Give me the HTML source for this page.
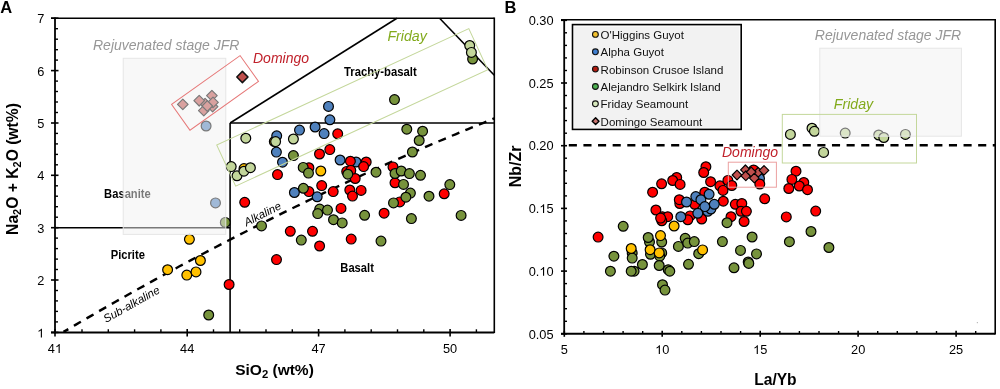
<!DOCTYPE html>
<html><head><meta charset="utf-8"><style>
html,body{margin:0;padding:0;background:#fff;width:1000px;height:389px;overflow:hidden}
svg{display:block;font-family:"Liberation Sans",sans-serif;will-change:transform}
</style></head><body>
<svg width="1000" height="389" viewBox="0 0 1000 389">
<rect width="1000" height="389" fill="#fff"/>
<line x1="55.0" y1="227.7" x2="230.1" y2="227.7" stroke="#000" stroke-width="1.6" />
<line x1="230.1" y1="332.4" x2="230.1" y2="123.0" stroke="#000" stroke-width="1.6" />
<line x1="230.1" y1="123.0" x2="494.3" y2="123.0" stroke="#000" stroke-width="1.6" />
<line x1="230.1" y1="123.0" x2="396.9" y2="18.3" stroke="#000" stroke-width="1.6" />
<line x1="439.6" y1="18.3" x2="494.3" y2="75.2" stroke="#000" stroke-width="1.6" />
<path d="M63.5 331.9 L67.5 329.6 L71.5 327.2 L75.5 324.9 L79.5 322.5 L83.5 320.2 L87.5 317.9 L91.5 315.6 L95.5 313.3 L99.5 310.9 L103.5 308.6 L107.5 306.4 L111.5 304.1 L115.5 301.8 L119.5 299.5 L123.5 297.3 L127.5 295.0 L131.5 292.8 L135.5 290.5 L139.5 288.3 L143.5 286.1 L147.5 283.8 L151.5 281.6 L155.5 279.4 L159.5 277.2 L163.5 275.0 L167.5 272.9 L171.5 270.7 L175.5 268.5 L179.5 266.3 L183.5 264.2 L187.5 262.0 L191.5 259.9 L195.5 257.8 L199.5 255.6 L203.5 253.5 L207.5 251.4 L211.5 249.3 L215.5 247.2 L219.5 245.1 L223.5 243.0 L227.5 241.0 L231.5 238.9 L235.5 236.8 L239.5 234.8 L243.5 232.7 L247.5 230.7 L251.5 228.6 L255.5 226.6 L259.5 224.6 L263.5 222.6 L267.5 220.6 L271.5 218.6 L275.5 216.6 L279.5 214.6 L283.5 212.6 L287.5 210.6 L291.5 208.7 L295.5 206.7 L299.5 204.8 L303.5 202.8 L307.5 200.9 L311.5 199.0 L315.5 197.0 L319.5 195.1 L323.5 193.2 L327.5 191.3 L331.5 189.4 L335.5 187.5 L339.5 185.7 L343.5 183.8 L347.5 181.9 L351.5 180.1 L355.5 178.2 L359.5 176.4 L363.5 174.5 L367.5 172.7 L371.5 170.9 L375.5 169.1 L379.5 167.3 L383.5 165.5 L387.5 163.7 L391.5 161.9 L395.5 160.1 L399.5 158.3 L403.5 156.6 L407.5 154.8 L411.5 153.1 L415.5 151.3 L419.5 149.6 L423.5 147.9 L427.5 146.1 L431.5 144.4 L435.5 142.7 L439.5 141.0 L443.5 139.3 L447.5 137.6 L451.5 135.9 L455.5 134.3 L459.5 132.6 L463.5 130.9 L467.5 129.3 L471.5 127.6 L475.5 126.0 L479.5 124.4 L483.5 122.8 L487.5 121.1 L491.5 119.5 L494.3 118.4" fill="none" stroke="#000" stroke-width="2.4" stroke-dasharray="8.1 6.5" stroke-dashoffset="2.55"/>
<text x="0.0" y="0.0" font-size="11.2" font-weight="bold" font-style="normal" fill="#000" text-anchor="start" transform="translate(104.1 197.6) scale(1 1.09)">Basanite</text>
<text x="0.0" y="0.0" font-size="11.2" font-weight="bold" font-style="normal" fill="#000" text-anchor="start" transform="translate(110.7 258.8) scale(1 1.09)">Picrite</text>
<text x="0.0" y="0.0" font-size="11.2" font-weight="bold" font-style="normal" fill="#000" text-anchor="start" transform="translate(340.3 271.8) scale(1 1.09)">Basalt</text>
<text x="0.0" y="0.0" font-size="11.3" font-weight="bold" font-style="normal" fill="#000" text-anchor="start" transform="translate(344 75.8) scale(1 1.09)">Trachy-basalt</text>
<text x="0.0" y="0.0" font-size="11.4" font-weight="normal" font-style="italic" fill="#000" text-anchor="start" transform="translate(246.5 226.5) rotate(-27)">Alkaline</text>
<text x="0.0" y="0.0" font-size="11.4" font-weight="normal" font-style="italic" fill="#000" text-anchor="start" transform="translate(106.0 323.0) rotate(-29.3)">Sub-alkaline</text>
<circle cx="167.6" cy="269.7" r="4.9" fill="#ffc000" stroke="#000" stroke-width="1.2"/>
<circle cx="186.8" cy="275.1" r="4.9" fill="#ffc000" stroke="#000" stroke-width="1.2"/>
<circle cx="196.0" cy="271.9" r="4.9" fill="#ffc000" stroke="#000" stroke-width="1.2"/>
<circle cx="200.4" cy="260.5" r="4.9" fill="#ffc000" stroke="#000" stroke-width="1.2"/>
<circle cx="189.4" cy="239.3" r="4.9" fill="#ffc000" stroke="#000" stroke-width="1.2"/>
<circle cx="244.0" cy="168.6" r="4.9" fill="#ffc000" stroke="#000" stroke-width="1.2"/>
<circle cx="320.8" cy="171.0" r="4.9" fill="#ffc000" stroke="#000" stroke-width="1.2"/>
<circle cx="274.3" cy="141.6" r="4.9" fill="#ffc000" stroke="#000" stroke-width="1.2"/>
<circle cx="328.5" cy="106.4" r="4.9" fill="#4f81bd" stroke="#000" stroke-width="1.2"/>
<circle cx="329.9" cy="119.8" r="4.9" fill="#4f81bd" stroke="#000" stroke-width="1.2"/>
<circle cx="315.1" cy="127.0" r="4.9" fill="#4f81bd" stroke="#000" stroke-width="1.2"/>
<circle cx="299.5" cy="130.1" r="4.9" fill="#4f81bd" stroke="#000" stroke-width="1.2"/>
<circle cx="324.1" cy="133.6" r="4.9" fill="#4f81bd" stroke="#000" stroke-width="1.2"/>
<circle cx="276.7" cy="135.8" r="4.9" fill="#4f81bd" stroke="#000" stroke-width="1.2"/>
<circle cx="276.4" cy="152.1" r="4.9" fill="#4f81bd" stroke="#000" stroke-width="1.2"/>
<circle cx="282.5" cy="162.2" r="4.9" fill="#4f81bd" stroke="#000" stroke-width="1.2"/>
<circle cx="340.1" cy="160.0" r="4.9" fill="#4f81bd" stroke="#000" stroke-width="1.2"/>
<circle cx="356.1" cy="162.0" r="4.9" fill="#4f81bd" stroke="#000" stroke-width="1.2"/>
<circle cx="294.4" cy="192.5" r="4.9" fill="#4f81bd" stroke="#000" stroke-width="1.2"/>
<circle cx="317.2" cy="196.8" r="4.9" fill="#4f81bd" stroke="#000" stroke-width="1.2"/>
<circle cx="206.1" cy="126.0" r="4.9" fill="#4f81bd" stroke="#000" stroke-width="1.2"/>
<circle cx="215.5" cy="202.9" r="4.9" fill="#4f81bd" stroke="#000" stroke-width="1.2"/>
<circle cx="337.7" cy="133.8" r="4.9" fill="#ff0000" stroke="#000" stroke-width="1.2"/>
<circle cx="319.5" cy="154.0" r="4.9" fill="#ff0000" stroke="#000" stroke-width="1.2"/>
<circle cx="329.8" cy="149.6" r="4.9" fill="#ff0000" stroke="#000" stroke-width="1.2"/>
<circle cx="350.4" cy="161.2" r="4.9" fill="#ff0000" stroke="#000" stroke-width="1.2"/>
<circle cx="366.2" cy="162.0" r="4.9" fill="#ff0000" stroke="#000" stroke-width="1.2"/>
<circle cx="363.6" cy="166.6" r="4.9" fill="#ff0000" stroke="#000" stroke-width="1.2"/>
<circle cx="346.7" cy="171.4" r="4.9" fill="#ff0000" stroke="#000" stroke-width="1.2"/>
<circle cx="350.8" cy="170.4" r="4.9" fill="#ff0000" stroke="#000" stroke-width="1.2"/>
<circle cx="355.2" cy="178.5" r="4.9" fill="#ff0000" stroke="#000" stroke-width="1.2"/>
<circle cx="393.0" cy="166.9" r="4.9" fill="#ff0000" stroke="#000" stroke-width="1.2"/>
<circle cx="395.0" cy="182.8" r="4.9" fill="#ff0000" stroke="#000" stroke-width="1.2"/>
<circle cx="399.8" cy="201.9" r="4.9" fill="#ff0000" stroke="#000" stroke-width="1.2"/>
<circle cx="384.1" cy="213.2" r="4.9" fill="#ff0000" stroke="#000" stroke-width="1.2"/>
<circle cx="341.0" cy="208.4" r="4.9" fill="#ff0000" stroke="#000" stroke-width="1.2"/>
<circle cx="321.7" cy="185.6" r="4.9" fill="#ff0000" stroke="#000" stroke-width="1.2"/>
<circle cx="333.2" cy="191.6" r="4.9" fill="#ff0000" stroke="#000" stroke-width="1.2"/>
<circle cx="349.8" cy="190.0" r="4.9" fill="#ff0000" stroke="#000" stroke-width="1.2"/>
<circle cx="361.1" cy="190.4" r="4.9" fill="#ff0000" stroke="#000" stroke-width="1.2"/>
<circle cx="352.5" cy="196.1" r="4.9" fill="#ff0000" stroke="#000" stroke-width="1.2"/>
<circle cx="277.5" cy="174.6" r="4.9" fill="#ff0000" stroke="#000" stroke-width="1.2"/>
<circle cx="308.9" cy="167.7" r="4.9" fill="#ff0000" stroke="#000" stroke-width="1.2"/>
<circle cx="308.9" cy="191.6" r="4.9" fill="#ff0000" stroke="#000" stroke-width="1.2"/>
<circle cx="244.7" cy="202.3" r="4.9" fill="#ff0000" stroke="#000" stroke-width="1.2"/>
<circle cx="290.3" cy="231.3" r="4.9" fill="#ff0000" stroke="#000" stroke-width="1.2"/>
<circle cx="312.5" cy="231.3" r="4.9" fill="#ff0000" stroke="#000" stroke-width="1.2"/>
<circle cx="319.6" cy="246.0" r="4.9" fill="#ff0000" stroke="#000" stroke-width="1.2"/>
<circle cx="276.5" cy="259.6" r="4.9" fill="#ff0000" stroke="#000" stroke-width="1.2"/>
<circle cx="229.1" cy="284.5" r="4.9" fill="#ff0000" stroke="#000" stroke-width="1.2"/>
<circle cx="351.2" cy="239.1" r="4.9" fill="#ff0000" stroke="#000" stroke-width="1.2"/>
<circle cx="444.2" cy="193.8" r="4.9" fill="#ff0000" stroke="#000" stroke-width="1.2"/>
<circle cx="208.7" cy="315.0" r="4.9" fill="#77933c" stroke="#000" stroke-width="1.2"/>
<circle cx="261.5" cy="225.9" r="4.9" fill="#77933c" stroke="#000" stroke-width="1.2"/>
<circle cx="301.3" cy="240.1" r="4.9" fill="#77933c" stroke="#000" stroke-width="1.2"/>
<circle cx="293.4" cy="155.6" r="4.9" fill="#77933c" stroke="#000" stroke-width="1.2"/>
<circle cx="303.2" cy="167.4" r="4.9" fill="#77933c" stroke="#000" stroke-width="1.2"/>
<circle cx="308.5" cy="173.1" r="4.9" fill="#77933c" stroke="#000" stroke-width="1.2"/>
<circle cx="303.4" cy="188.3" r="4.9" fill="#77933c" stroke="#000" stroke-width="1.2"/>
<circle cx="319.7" cy="209.1" r="4.9" fill="#77933c" stroke="#000" stroke-width="1.2"/>
<circle cx="317.7" cy="213.6" r="4.9" fill="#77933c" stroke="#000" stroke-width="1.2"/>
<circle cx="327.5" cy="210.1" r="4.9" fill="#77933c" stroke="#000" stroke-width="1.2"/>
<circle cx="333.5" cy="219.7" r="4.9" fill="#77933c" stroke="#000" stroke-width="1.2"/>
<circle cx="342.2" cy="222.9" r="4.9" fill="#77933c" stroke="#000" stroke-width="1.2"/>
<circle cx="347.8" cy="174.2" r="4.9" fill="#77933c" stroke="#000" stroke-width="1.2"/>
<circle cx="376.0" cy="172.2" r="4.9" fill="#77933c" stroke="#000" stroke-width="1.2"/>
<circle cx="395.0" cy="173.5" r="4.9" fill="#77933c" stroke="#000" stroke-width="1.2"/>
<circle cx="401.2" cy="171.0" r="4.9" fill="#77933c" stroke="#000" stroke-width="1.2"/>
<circle cx="409.4" cy="173.6" r="4.9" fill="#77933c" stroke="#000" stroke-width="1.2"/>
<circle cx="420.5" cy="175.3" r="4.9" fill="#77933c" stroke="#000" stroke-width="1.2"/>
<circle cx="403.5" cy="184.4" r="4.9" fill="#77933c" stroke="#000" stroke-width="1.2"/>
<circle cx="410.4" cy="193.1" r="4.9" fill="#77933c" stroke="#000" stroke-width="1.2"/>
<circle cx="405.9" cy="197.2" r="4.9" fill="#77933c" stroke="#000" stroke-width="1.2"/>
<circle cx="393.5" cy="202.9" r="4.9" fill="#77933c" stroke="#000" stroke-width="1.2"/>
<circle cx="429.0" cy="196.2" r="4.9" fill="#77933c" stroke="#000" stroke-width="1.2"/>
<circle cx="411.4" cy="218.6" r="4.9" fill="#77933c" stroke="#000" stroke-width="1.2"/>
<circle cx="364.6" cy="215.3" r="4.9" fill="#77933c" stroke="#000" stroke-width="1.2"/>
<circle cx="461.1" cy="215.4" r="4.9" fill="#77933c" stroke="#000" stroke-width="1.2"/>
<circle cx="449.8" cy="184.6" r="4.9" fill="#77933c" stroke="#000" stroke-width="1.2"/>
<circle cx="381.0" cy="241.1" r="4.9" fill="#77933c" stroke="#000" stroke-width="1.2"/>
<circle cx="394.5" cy="99.6" r="4.9" fill="#77933c" stroke="#000" stroke-width="1.2"/>
<circle cx="406.8" cy="129.2" r="4.9" fill="#77933c" stroke="#000" stroke-width="1.2"/>
<circle cx="422.6" cy="131.2" r="4.9" fill="#77933c" stroke="#000" stroke-width="1.2"/>
<circle cx="419.2" cy="140.5" r="4.9" fill="#77933c" stroke="#000" stroke-width="1.2"/>
<circle cx="412.4" cy="152.0" r="4.9" fill="#77933c" stroke="#000" stroke-width="1.2"/>
<circle cx="472.6" cy="59.0" r="4.9" fill="#77933c" stroke="#000" stroke-width="1.2"/>
<circle cx="225.3" cy="222.4" r="4.9" fill="#77933c" stroke="#000" stroke-width="1.2"/>
<circle cx="245.8" cy="138.2" r="4.9" fill="#c3d69b" stroke="#000" stroke-width="1.2"/>
<circle cx="237.0" cy="175.8" r="4.9" fill="#c3d69b" stroke="#000" stroke-width="1.2"/>
<circle cx="231.2" cy="166.6" r="4.9" fill="#c3d69b" stroke="#000" stroke-width="1.2"/>
<circle cx="243.9" cy="171.2" r="4.9" fill="#c3d69b" stroke="#000" stroke-width="1.2"/>
<circle cx="250.4" cy="167.7" r="4.9" fill="#c3d69b" stroke="#000" stroke-width="1.2"/>
<circle cx="293.4" cy="139.0" r="4.9" fill="#c3d69b" stroke="#000" stroke-width="1.2"/>
<circle cx="275.6" cy="141.6" r="4.9" fill="#c3d69b" stroke="#000" stroke-width="1.2"/>
<circle cx="469.7" cy="45.5" r="4.9" fill="#c3d69b" stroke="#000" stroke-width="1.2"/>
<circle cx="471.4" cy="52.4" r="4.9" fill="#c3d69b" stroke="#000" stroke-width="1.2"/>
<path d="M182.8 99.1L188.1 104.4L182.8 109.7L177.5 104.4Z" fill="#c0504d" stroke="#000" stroke-width="1.2" stroke-linejoin="round"/>
<path d="M205.1 98.3L210.4 103.6L205.1 108.9L199.8 103.6Z" fill="#c0504d" stroke="#000" stroke-width="1.2" stroke-linejoin="round"/>
<path d="M212.6 101.3L217.9 106.6L212.6 111.9L207.3 106.6Z" fill="#c0504d" stroke="#000" stroke-width="1.2" stroke-linejoin="round"/>
<path d="M211.9 90.3L217.2 95.6L211.9 100.9L206.6 95.6Z" fill="#c0504d" stroke="#000" stroke-width="1.2" stroke-linejoin="round"/>
<path d="M213.0 97.1L218.3 102.4L213.0 107.7L207.7 102.4Z" fill="#c0504d" stroke="#000" stroke-width="1.2" stroke-linejoin="round"/>
<path d="M199.2 95.4L204.5 100.7L199.2 106.0L193.9 100.7Z" fill="#c0504d" stroke="#000" stroke-width="1.2" stroke-linejoin="round"/>
<path d="M203.8 105.3L209.1 110.6L203.8 115.9L198.5 110.6Z" fill="#c0504d" stroke="#000" stroke-width="1.2" stroke-linejoin="round"/>
<path d="M207.3 100.7L212.6 106.0L207.3 111.3L202.0 106.0Z" fill="#c0504d" stroke="#000" stroke-width="1.2" stroke-linejoin="round"/>
<rect x="123.2" y="58.3" width="102.6" height="176.1" fill="rgb(241,241,241)" fill-opacity="0.5" stroke="#e6e6e6" stroke-width="1"/>
<path d="M242.4 71.4L248.0 77.0L242.4 82.6L236.8 77.0Z" fill="#c0504d" stroke="#111" stroke-width="1.5" stroke-linejoin="round"/>
<rect x="-42.1" y="-15.8" width="84.2" height="31.7" fill="none" stroke="#e67878" stroke-width="1" transform="translate(215.0 92.9) rotate(-35.50)"/>
<rect x="-138.8" y="-22.6" width="277.7" height="45.2" fill="none" stroke="#c4d79b" stroke-width="1" transform="translate(352.2 107.4) rotate(-24.80)"/>
<text x="93.0" y="50.0" font-size="14" font-weight="normal" font-style="italic" fill="#979797" text-anchor="start" >Rejuvenated stage JFR</text>
<text x="253.0" y="62.8" font-size="14" font-weight="normal" font-style="italic" fill="#c0202a" text-anchor="start" >Domingo</text>
<text x="387.4" y="40.8" font-size="14.2" font-weight="normal" font-style="italic" fill="#82aa1c" text-anchor="start" >Friday</text>
<line x1="51.0" y1="18.3" x2="494.3" y2="18.3" stroke="#000" stroke-width="1.6" />
<line x1="494.3" y1="17.5" x2="494.3" y2="333.0" stroke="#000" stroke-width="1.6" />
<line x1="55.0" y1="17.5" x2="55.0" y2="333.4" stroke="#000" stroke-width="1.8" />
<line x1="51.0" y1="332.4" x2="494.3" y2="332.4" stroke="#000" stroke-width="2.0" />
<line x1="51.0" y1="332.4" x2="58.5" y2="332.4" stroke="#000" stroke-width="1.6" />
<path d="M763 0L583 0L583 1096Q518 1037 412 978Q307 919 223 890L223 1056Q374 1124 486 1220Q599 1317 646 1409L763 1409Z" fill="#000" transform="translate(37.18 337.45) scale(0.00625 -0.00625)"/>
<line x1="55.0" y1="321.9" x2="58.0" y2="321.9" stroke="#000" stroke-width="1.4" />
<line x1="55.0" y1="311.4" x2="58.0" y2="311.4" stroke="#000" stroke-width="1.4" />
<line x1="55.0" y1="300.9" x2="58.0" y2="300.9" stroke="#000" stroke-width="1.4" />
<line x1="55.0" y1="290.5" x2="58.0" y2="290.5" stroke="#000" stroke-width="1.4" />
<line x1="51.0" y1="280.0" x2="58.5" y2="280.0" stroke="#000" stroke-width="1.6" />
<text x="0" y="0" font-size="12.8" fill="#000" transform="translate(37.18 285.10) scale(1 1.06)">2</text>
<line x1="55.0" y1="269.5" x2="58.0" y2="269.5" stroke="#000" stroke-width="1.4" />
<line x1="55.0" y1="259.1" x2="58.0" y2="259.1" stroke="#000" stroke-width="1.4" />
<line x1="55.0" y1="248.6" x2="58.0" y2="248.6" stroke="#000" stroke-width="1.4" />
<line x1="55.0" y1="238.1" x2="58.0" y2="238.1" stroke="#000" stroke-width="1.4" />
<line x1="51.0" y1="227.7" x2="58.5" y2="227.7" stroke="#000" stroke-width="1.6" />
<text x="0" y="0" font-size="12.8" fill="#000" transform="translate(37.18 232.75) scale(1 1.06)">3</text>
<line x1="55.0" y1="217.2" x2="58.0" y2="217.2" stroke="#000" stroke-width="1.4" />
<line x1="55.0" y1="206.7" x2="58.0" y2="206.7" stroke="#000" stroke-width="1.4" />
<line x1="55.0" y1="196.2" x2="58.0" y2="196.2" stroke="#000" stroke-width="1.4" />
<line x1="55.0" y1="185.8" x2="58.0" y2="185.8" stroke="#000" stroke-width="1.4" />
<line x1="51.0" y1="175.3" x2="58.5" y2="175.3" stroke="#000" stroke-width="1.6" />
<text x="0" y="0" font-size="12.8" fill="#000" transform="translate(37.18 180.40) scale(1 1.06)">4</text>
<line x1="55.0" y1="164.8" x2="58.0" y2="164.8" stroke="#000" stroke-width="1.4" />
<line x1="55.0" y1="154.4" x2="58.0" y2="154.4" stroke="#000" stroke-width="1.4" />
<line x1="55.0" y1="143.9" x2="58.0" y2="143.9" stroke="#000" stroke-width="1.4" />
<line x1="55.0" y1="133.4" x2="58.0" y2="133.4" stroke="#000" stroke-width="1.4" />
<line x1="51.0" y1="123.0" x2="58.5" y2="123.0" stroke="#000" stroke-width="1.6" />
<text x="0" y="0" font-size="12.8" fill="#000" transform="translate(37.18 128.05) scale(1 1.06)">5</text>
<line x1="55.0" y1="112.5" x2="58.0" y2="112.5" stroke="#000" stroke-width="1.4" />
<line x1="55.0" y1="102.0" x2="58.0" y2="102.0" stroke="#000" stroke-width="1.4" />
<line x1="55.0" y1="91.5" x2="58.0" y2="91.5" stroke="#000" stroke-width="1.4" />
<line x1="55.0" y1="81.1" x2="58.0" y2="81.1" stroke="#000" stroke-width="1.4" />
<line x1="51.0" y1="70.6" x2="58.5" y2="70.6" stroke="#000" stroke-width="1.6" />
<text x="0" y="0" font-size="12.8" fill="#000" transform="translate(37.18 75.70) scale(1 1.06)">6</text>
<line x1="55.0" y1="60.1" x2="58.0" y2="60.1" stroke="#000" stroke-width="1.4" />
<line x1="55.0" y1="49.7" x2="58.0" y2="49.7" stroke="#000" stroke-width="1.4" />
<line x1="55.0" y1="39.2" x2="58.0" y2="39.2" stroke="#000" stroke-width="1.4" />
<line x1="55.0" y1="28.7" x2="58.0" y2="28.7" stroke="#000" stroke-width="1.4" />
<line x1="51.0" y1="18.2" x2="58.5" y2="18.2" stroke="#000" stroke-width="1.6" />
<text x="0" y="0" font-size="12.8" fill="#000" transform="translate(37.18 23.35) scale(1 1.06)">7</text>
<line x1="55.0" y1="329.0" x2="55.0" y2="336.5" stroke="#000" stroke-width="1.6" />
<text x="0" y="0" font-size="12.8" fill="#000" transform="translate(47.83 352.90) scale(1 1.06)">4</text>
<path d="M763 0L583 0L583 1096Q518 1037 412 978Q307 919 223 890L223 1056Q374 1124 486 1220Q599 1317 646 1409L763 1409Z" fill="#000" transform="translate(54.95 352.90) scale(0.00625 -0.00625)"/>
<line x1="187.2" y1="329.0" x2="187.2" y2="336.5" stroke="#000" stroke-width="1.6" />
<text x="0" y="0" font-size="12.8" fill="#000" transform="translate(180.04 352.90) scale(1 1.06)">4</text>
<text x="0" y="0" font-size="12.8" fill="#000" transform="translate(187.16 352.90) scale(1 1.06)">4</text>
<line x1="318.6" y1="329.0" x2="318.6" y2="336.5" stroke="#000" stroke-width="1.6" />
<text x="0" y="0" font-size="12.8" fill="#000" transform="translate(311.50 352.90) scale(1 1.06)">4</text>
<text x="0" y="0" font-size="12.8" fill="#000" transform="translate(318.62 352.90) scale(1 1.06)">7</text>
<line x1="450.1" y1="329.0" x2="450.1" y2="336.5" stroke="#000" stroke-width="1.6" />
<text x="0" y="0" font-size="12.8" fill="#000" transform="translate(442.96 352.90) scale(1 1.06)">5</text>
<text x="0" y="0" font-size="12.8" fill="#000" transform="translate(450.08 352.90) scale(1 1.06)">0</text>
<line x1="82.0" y1="329.3" x2="82.0" y2="332.2" stroke="#000" stroke-width="1.4" />
<line x1="108.3" y1="329.3" x2="108.3" y2="332.2" stroke="#000" stroke-width="1.4" />
<line x1="134.6" y1="329.3" x2="134.6" y2="332.2" stroke="#000" stroke-width="1.4" />
<line x1="160.9" y1="329.3" x2="160.9" y2="332.2" stroke="#000" stroke-width="1.4" />
<line x1="213.5" y1="329.3" x2="213.5" y2="332.2" stroke="#000" stroke-width="1.4" />
<line x1="239.7" y1="329.3" x2="239.7" y2="332.2" stroke="#000" stroke-width="1.4" />
<line x1="266.0" y1="329.3" x2="266.0" y2="332.2" stroke="#000" stroke-width="1.4" />
<line x1="292.3" y1="329.3" x2="292.3" y2="332.2" stroke="#000" stroke-width="1.4" />
<line x1="344.9" y1="329.3" x2="344.9" y2="332.2" stroke="#000" stroke-width="1.4" />
<line x1="371.2" y1="329.3" x2="371.2" y2="332.2" stroke="#000" stroke-width="1.4" />
<line x1="397.5" y1="329.3" x2="397.5" y2="332.2" stroke="#000" stroke-width="1.4" />
<line x1="423.8" y1="329.3" x2="423.8" y2="332.2" stroke="#000" stroke-width="1.4" />
<line x1="476.4" y1="329.3" x2="476.4" y2="332.2" stroke="#000" stroke-width="1.4" />
<text x="235.2" y="374.8" font-size="15.5" font-weight="bold">SiO<tspan font-size="11.3" dy="3.6">2</tspan><tspan dy="-3.6"> (wt%)</tspan></text>
<text transform="translate(17.8 234.9) rotate(-90)" font-size="15.65" font-weight="bold">Na<tspan font-size="11" dy="3.4">2</tspan><tspan dy="-3.4">O + K</tspan><tspan font-size="11" dy="3.4">2</tspan><tspan dy="-3.4">O (wt%)</tspan></text>
<text x="0.3" y="12.9" font-size="16.5" font-weight="bold" font-style="normal" fill="#000" text-anchor="start" >A</text>
<text x="814.8" y="40.0" font-size="14" font-weight="normal" font-style="italic" fill="#979797" text-anchor="start" >Rejuvenated stage JFR</text>
<line x1="568.8" y1="145.3" x2="995" y2="145.3" stroke="#000" stroke-width="2.4" stroke-dasharray="8.1 6.52"/>
<circle cx="759.5" cy="178.5" r="4.9" fill="#4f81bd" stroke="#000" stroke-width="1.2"/>
<circle cx="652.6" cy="192.2" r="4.9" fill="#ff0000" stroke="#000" stroke-width="1.2"/>
<circle cx="661.6" cy="183.8" r="4.9" fill="#ff0000" stroke="#000" stroke-width="1.2"/>
<circle cx="676.7" cy="177.5" r="4.9" fill="#ff0000" stroke="#000" stroke-width="1.2"/>
<circle cx="672.7" cy="180.5" r="4.9" fill="#ff0000" stroke="#000" stroke-width="1.2"/>
<circle cx="680.1" cy="184.4" r="4.9" fill="#ff0000" stroke="#000" stroke-width="1.2"/>
<circle cx="705.9" cy="166.7" r="4.9" fill="#ff0000" stroke="#000" stroke-width="1.2"/>
<circle cx="703.7" cy="172.5" r="4.9" fill="#ff0000" stroke="#000" stroke-width="1.2"/>
<circle cx="710.6" cy="181.7" r="4.9" fill="#ff0000" stroke="#000" stroke-width="1.2"/>
<circle cx="719.9" cy="185.8" r="4.9" fill="#ff0000" stroke="#000" stroke-width="1.2"/>
<circle cx="723.0" cy="190.4" r="4.9" fill="#ff0000" stroke="#000" stroke-width="1.2"/>
<circle cx="727.9" cy="180.4" r="4.9" fill="#ff0000" stroke="#000" stroke-width="1.2"/>
<circle cx="731.8" cy="185.5" r="4.9" fill="#ff0000" stroke="#000" stroke-width="1.2"/>
<circle cx="704.8" cy="192.2" r="4.9" fill="#ff0000" stroke="#000" stroke-width="1.2"/>
<circle cx="679.8" cy="203.5" r="4.9" fill="#ff0000" stroke="#000" stroke-width="1.2"/>
<circle cx="679.3" cy="199.7" r="4.9" fill="#ff0000" stroke="#000" stroke-width="1.2"/>
<circle cx="694.7" cy="204.3" r="4.9" fill="#ff0000" stroke="#000" stroke-width="1.2"/>
<circle cx="723.3" cy="201.2" r="4.9" fill="#ff0000" stroke="#000" stroke-width="1.2"/>
<circle cx="735.3" cy="204.3" r="4.9" fill="#ff0000" stroke="#000" stroke-width="1.2"/>
<circle cx="741.8" cy="203.5" r="4.9" fill="#ff0000" stroke="#000" stroke-width="1.2"/>
<circle cx="741.0" cy="211.3" r="4.9" fill="#ff0000" stroke="#000" stroke-width="1.2"/>
<circle cx="746.4" cy="211.3" r="4.9" fill="#ff0000" stroke="#000" stroke-width="1.2"/>
<circle cx="731.0" cy="216.7" r="4.9" fill="#ff0000" stroke="#000" stroke-width="1.2"/>
<circle cx="744.1" cy="221.5" r="4.9" fill="#ff0000" stroke="#000" stroke-width="1.2"/>
<circle cx="662.3" cy="216.7" r="4.9" fill="#ff0000" stroke="#000" stroke-width="1.2"/>
<circle cx="667.7" cy="216.7" r="4.9" fill="#ff0000" stroke="#000" stroke-width="1.2"/>
<circle cx="690.1" cy="215.9" r="4.9" fill="#ff0000" stroke="#000" stroke-width="1.2"/>
<circle cx="687.8" cy="219.8" r="4.9" fill="#ff0000" stroke="#000" stroke-width="1.2"/>
<circle cx="701.7" cy="219.0" r="4.9" fill="#ff0000" stroke="#000" stroke-width="1.2"/>
<circle cx="655.9" cy="210.0" r="4.9" fill="#ff0000" stroke="#000" stroke-width="1.2"/>
<circle cx="661.8" cy="220.8" r="4.9" fill="#ff0000" stroke="#000" stroke-width="1.2"/>
<circle cx="660.6" cy="218.1" r="4.9" fill="#ff0000" stroke="#000" stroke-width="1.2"/>
<circle cx="598.1" cy="237.1" r="4.9" fill="#ff0000" stroke="#000" stroke-width="1.2"/>
<circle cx="753.6" cy="170.0" r="4.9" fill="#ff0000" stroke="#000" stroke-width="1.2"/>
<circle cx="759.8" cy="184.0" r="4.9" fill="#ff0000" stroke="#000" stroke-width="1.2"/>
<circle cx="796.0" cy="171.2" r="4.9" fill="#ff0000" stroke="#000" stroke-width="1.2"/>
<circle cx="791.9" cy="179.4" r="4.9" fill="#ff0000" stroke="#000" stroke-width="1.2"/>
<circle cx="803.8" cy="182.5" r="4.9" fill="#ff0000" stroke="#000" stroke-width="1.2"/>
<circle cx="799.3" cy="186.0" r="4.9" fill="#ff0000" stroke="#000" stroke-width="1.2"/>
<circle cx="788.8" cy="188.5" r="4.9" fill="#ff0000" stroke="#000" stroke-width="1.2"/>
<circle cx="807.5" cy="189.7" r="4.9" fill="#ff0000" stroke="#000" stroke-width="1.2"/>
<circle cx="764.7" cy="198.8" r="4.9" fill="#ff0000" stroke="#000" stroke-width="1.2"/>
<circle cx="815.7" cy="211.1" r="4.9" fill="#ff0000" stroke="#000" stroke-width="1.2"/>
<circle cx="786.3" cy="216.9" r="4.9" fill="#ff0000" stroke="#000" stroke-width="1.2"/>
<circle cx="623.2" cy="226.3" r="4.9" fill="#77933c" stroke="#000" stroke-width="1.2"/>
<circle cx="613.9" cy="256.2" r="4.9" fill="#77933c" stroke="#000" stroke-width="1.2"/>
<circle cx="610.4" cy="271.2" r="4.9" fill="#77933c" stroke="#000" stroke-width="1.2"/>
<circle cx="632.2" cy="252.9" r="4.9" fill="#77933c" stroke="#000" stroke-width="1.2"/>
<circle cx="632.2" cy="258.1" r="4.9" fill="#77933c" stroke="#000" stroke-width="1.2"/>
<circle cx="634.1" cy="271.2" r="4.9" fill="#77933c" stroke="#000" stroke-width="1.2"/>
<circle cx="631.2" cy="271.2" r="4.9" fill="#77933c" stroke="#000" stroke-width="1.2"/>
<circle cx="642.4" cy="264.5" r="4.9" fill="#77933c" stroke="#000" stroke-width="1.2"/>
<circle cx="649.5" cy="242.0" r="4.9" fill="#77933c" stroke="#000" stroke-width="1.2"/>
<circle cx="648.2" cy="237.5" r="4.9" fill="#77933c" stroke="#000" stroke-width="1.2"/>
<circle cx="650.5" cy="254.3" r="4.9" fill="#77933c" stroke="#000" stroke-width="1.2"/>
<circle cx="661.7" cy="242.0" r="4.9" fill="#77933c" stroke="#000" stroke-width="1.2"/>
<circle cx="661.7" cy="252.9" r="4.9" fill="#77933c" stroke="#000" stroke-width="1.2"/>
<circle cx="659.8" cy="256.2" r="4.9" fill="#77933c" stroke="#000" stroke-width="1.2"/>
<circle cx="659.2" cy="265.5" r="4.9" fill="#77933c" stroke="#000" stroke-width="1.2"/>
<circle cx="668.2" cy="269.7" r="4.9" fill="#77933c" stroke="#000" stroke-width="1.2"/>
<circle cx="669.8" cy="271.2" r="4.9" fill="#77933c" stroke="#000" stroke-width="1.2"/>
<circle cx="662.5" cy="284.7" r="4.9" fill="#77933c" stroke="#000" stroke-width="1.2"/>
<circle cx="665.0" cy="290.1" r="4.9" fill="#77933c" stroke="#000" stroke-width="1.2"/>
<circle cx="678.4" cy="246.4" r="4.9" fill="#77933c" stroke="#000" stroke-width="1.2"/>
<circle cx="685.2" cy="238.3" r="4.9" fill="#77933c" stroke="#000" stroke-width="1.2"/>
<circle cx="687.7" cy="243.1" r="4.9" fill="#77933c" stroke="#000" stroke-width="1.2"/>
<circle cx="694.3" cy="241.6" r="4.9" fill="#77933c" stroke="#000" stroke-width="1.2"/>
<circle cx="698.7" cy="253.7" r="4.9" fill="#77933c" stroke="#000" stroke-width="1.2"/>
<circle cx="688.5" cy="264.3" r="4.9" fill="#77933c" stroke="#000" stroke-width="1.2"/>
<circle cx="722.4" cy="241.6" r="4.9" fill="#77933c" stroke="#000" stroke-width="1.2"/>
<circle cx="727.0" cy="222.7" r="4.9" fill="#77933c" stroke="#000" stroke-width="1.2"/>
<circle cx="752.1" cy="237.0" r="4.9" fill="#77933c" stroke="#000" stroke-width="1.2"/>
<circle cx="740.5" cy="250.4" r="4.9" fill="#77933c" stroke="#000" stroke-width="1.2"/>
<circle cx="756.5" cy="253.9" r="4.9" fill="#77933c" stroke="#000" stroke-width="1.2"/>
<circle cx="748.2" cy="262.0" r="4.9" fill="#77933c" stroke="#000" stroke-width="1.2"/>
<circle cx="748.8" cy="263.4" r="4.9" fill="#77933c" stroke="#000" stroke-width="1.2"/>
<circle cx="734.0" cy="267.8" r="4.9" fill="#77933c" stroke="#000" stroke-width="1.2"/>
<circle cx="789.4" cy="241.7" r="4.9" fill="#77933c" stroke="#000" stroke-width="1.2"/>
<circle cx="811.0" cy="231.5" r="4.9" fill="#77933c" stroke="#000" stroke-width="1.2"/>
<circle cx="828.9" cy="247.5" r="4.9" fill="#77933c" stroke="#000" stroke-width="1.2"/>
<circle cx="707.8" cy="211.3" r="4.9" fill="#4f81bd" stroke="#000" stroke-width="1.2"/>
<circle cx="710.9" cy="209.0" r="4.9" fill="#4f81bd" stroke="#000" stroke-width="1.2"/>
<circle cx="695.8" cy="196.6" r="4.9" fill="#4f81bd" stroke="#000" stroke-width="1.2"/>
<circle cx="686.5" cy="202.0" r="4.9" fill="#4f81bd" stroke="#000" stroke-width="1.2"/>
<circle cx="700.9" cy="199.7" r="4.9" fill="#4f81bd" stroke="#000" stroke-width="1.2"/>
<circle cx="709.1" cy="194.3" r="4.9" fill="#4f81bd" stroke="#000" stroke-width="1.2"/>
<circle cx="704.8" cy="206.6" r="4.9" fill="#4f81bd" stroke="#000" stroke-width="1.2"/>
<circle cx="714.3" cy="204.3" r="4.9" fill="#4f81bd" stroke="#000" stroke-width="1.2"/>
<circle cx="697.8" cy="213.3" r="4.9" fill="#4f81bd" stroke="#000" stroke-width="1.2"/>
<circle cx="680.8" cy="216.7" r="4.9" fill="#4f81bd" stroke="#000" stroke-width="1.2"/>
<circle cx="674.1" cy="226.0" r="4.9" fill="#ffc000" stroke="#000" stroke-width="1.2"/>
<circle cx="631.2" cy="248.5" r="4.9" fill="#ffc000" stroke="#000" stroke-width="1.2"/>
<circle cx="650.1" cy="249.7" r="4.9" fill="#ffc000" stroke="#000" stroke-width="1.2"/>
<circle cx="660.5" cy="235.6" r="4.9" fill="#ffc000" stroke="#000" stroke-width="1.2"/>
<circle cx="659.2" cy="252.9" r="4.9" fill="#ffc000" stroke="#000" stroke-width="1.2"/>
<circle cx="702.6" cy="249.9" r="4.9" fill="#ffc000" stroke="#000" stroke-width="1.2"/>
<circle cx="790.4" cy="134.4" r="4.9" fill="#c3d69b" stroke="#000" stroke-width="1.2"/>
<circle cx="812.0" cy="128.2" r="4.9" fill="#c3d69b" stroke="#000" stroke-width="1.2"/>
<circle cx="814.4" cy="131.3" r="4.9" fill="#c3d69b" stroke="#000" stroke-width="1.2"/>
<circle cx="823.6" cy="152.4" r="4.9" fill="#c3d69b" stroke="#000" stroke-width="1.2"/>
<circle cx="845.2" cy="133.1" r="4.9" fill="#c3d69b" stroke="#000" stroke-width="1.2"/>
<circle cx="878.7" cy="135.0" r="4.9" fill="#c3d69b" stroke="#000" stroke-width="1.2"/>
<circle cx="883.8" cy="137.5" r="4.9" fill="#c3d69b" stroke="#000" stroke-width="1.2"/>
<circle cx="905.4" cy="134.4" r="4.9" fill="#c3d69b" stroke="#000" stroke-width="1.2"/>
<path d="M745.4 165.0L750.2 169.8L745.4 174.6L740.6 169.8Z" fill="#c0504d" stroke="#000" stroke-width="1.2" stroke-linejoin="round"/>
<path d="M758.2 167.5L763.0 172.3L758.2 177.1L753.4 172.3Z" fill="#c0504d" stroke="#000" stroke-width="1.2" stroke-linejoin="round"/>
<path d="M737.0 170.2L741.8 175.0L737.0 179.8L732.2 175.0Z" fill="#c0504d" stroke="#000" stroke-width="1.2" stroke-linejoin="round"/>
<path d="M745.8 171.0L750.6 175.8L745.8 180.6L741.0 175.8Z" fill="#c0504d" stroke="#000" stroke-width="1.2" stroke-linejoin="round"/>
<path d="M751.2 167.2L756.0 172.0L751.2 176.8L746.4 172.0Z" fill="#c0504d" stroke="#000" stroke-width="1.2" stroke-linejoin="round"/>
<path d="M754.3 173.3L759.1 178.1L754.3 182.9L749.5 178.1Z" fill="#c0504d" stroke="#000" stroke-width="1.2" stroke-linejoin="round"/>
<path d="M764.0 165.6L768.8 170.4L764.0 175.2L759.2 170.4Z" fill="#c0504d" stroke="#000" stroke-width="1.2" stroke-linejoin="round"/>
<rect x="819.8" y="48.2" width="141.6" height="88" fill="rgb(241,241,241)" fill-opacity="0.5" stroke="#e6e6e6" stroke-width="1"/>
<rect x="782.3" y="114.4" width="134.2" height="48.6" fill="none" stroke="#c4d79b" stroke-width="1"/>
<rect x="728.3" y="162.2" width="48.1" height="25" fill="none" stroke="#eba0a0" stroke-width="1"/>
<text x="833.8" y="108.9" font-size="14.2" font-weight="normal" font-style="italic" fill="#82aa1c" text-anchor="start" >Friday</text>
<text x="722.0" y="157.4" font-size="14" font-weight="normal" font-style="italic" fill="#c0202a" text-anchor="start" >Domingo</text>
<rect x="572.5" y="24.6" width="168.7" height="104.8" fill="#fff" stroke="#000" stroke-width="1.6"/>
<rect x="574.2" y="26.6" width="165.1" height="101.2" fill="#f2f2f2"/>
<circle cx="595.4" cy="34.4" r="2.9" fill="#f2c12e" stroke="#111" stroke-width="1.1"/>
<text x="600.6" y="38.9" font-size="11.5" font-weight="normal" font-style="normal" fill="#111" text-anchor="start" >O'Higgins Guyot</text>
<circle cx="595.4" cy="51.8" r="2.9" fill="#3f7fd0" stroke="#111" stroke-width="1.1"/>
<text x="600.6" y="56.2" font-size="11.5" font-weight="normal" font-style="normal" fill="#111" text-anchor="start" >Alpha Guyot</text>
<circle cx="595.4" cy="69.1" r="2.9" fill="#b01c10" stroke="#111" stroke-width="1.1"/>
<text x="600.6" y="73.6" font-size="11.5" font-weight="normal" font-style="normal" fill="#111" text-anchor="start" >Robinson Crusoe Island</text>
<circle cx="595.4" cy="86.5" r="2.9" fill="#4caf50" stroke="#111" stroke-width="1.1"/>
<text x="600.6" y="91.0" font-size="11.5" font-weight="normal" font-style="normal" fill="#111" text-anchor="start" >Alejandro Selkirk Island</text>
<circle cx="595.4" cy="103.8" r="2.9" fill="#d6e8bc" stroke="#111" stroke-width="1.1"/>
<text x="600.6" y="108.3" font-size="11.5" font-weight="normal" font-style="normal" fill="#111" text-anchor="start" >Friday Seamount</text>
<path d="M595.6 117.8L599 121.2L595.6 124.6L592.2 121.2Z" fill="#c87470" stroke="#000" stroke-width="1.4" stroke-linejoin="round"/>
<text x="600.6" y="125.7" font-size="11.5" font-weight="normal" font-style="normal" fill="#111" text-anchor="start" >Domingo Seamount</text>
<line x1="561.0" y1="19.8" x2="995.2" y2="19.8" stroke="#000" stroke-width="1.6" />
<line x1="995.2" y1="19.0" x2="995.2" y2="334.5" stroke="#000" stroke-width="1.6" />
<line x1="564.2" y1="19.0" x2="564.2" y2="334.5" stroke="#000" stroke-width="1.8" />
<line x1="561.0" y1="333.8" x2="995.2" y2="333.8" stroke="#000" stroke-width="2.0" />
<line x1="561.0" y1="333.8" x2="567.0" y2="333.8" stroke="#000" stroke-width="1.6" />
<text x="0" y="0" font-size="12.8" fill="#000" transform="translate(528.69 338.50) scale(1 1.06)">0</text>
<text x="0" y="0" font-size="12.8" fill="#000" transform="translate(535.81 338.50) scale(1 1.06)">.</text>
<text x="0" y="0" font-size="12.8" fill="#000" transform="translate(539.36 338.50) scale(1 1.06)">0</text>
<text x="0" y="0" font-size="12.8" fill="#000" transform="translate(546.48 338.50) scale(1 1.06)">5</text>
<line x1="564.2" y1="321.3" x2="567.0" y2="321.3" stroke="#000" stroke-width="1.4" />
<line x1="564.2" y1="308.7" x2="567.0" y2="308.7" stroke="#000" stroke-width="1.4" />
<line x1="564.2" y1="296.2" x2="567.0" y2="296.2" stroke="#000" stroke-width="1.4" />
<line x1="564.2" y1="283.6" x2="567.0" y2="283.6" stroke="#000" stroke-width="1.4" />
<line x1="561.0" y1="271.1" x2="567.0" y2="271.1" stroke="#000" stroke-width="1.6" />
<text x="0" y="0" font-size="12.8" fill="#000" transform="translate(528.69 275.80) scale(1 1.06)">0</text>
<text x="0" y="0" font-size="12.8" fill="#000" transform="translate(535.81 275.80) scale(1 1.06)">.</text>
<path d="M763 0L583 0L583 1096Q518 1037 412 978Q307 919 223 890L223 1056Q374 1124 486 1220Q599 1317 646 1409L763 1409Z" fill="#000" transform="translate(539.36 275.80) scale(0.00625 -0.00625)"/>
<text x="0" y="0" font-size="12.8" fill="#000" transform="translate(546.48 275.80) scale(1 1.06)">0</text>
<line x1="564.2" y1="258.6" x2="567.0" y2="258.6" stroke="#000" stroke-width="1.4" />
<line x1="564.2" y1="246.0" x2="567.0" y2="246.0" stroke="#000" stroke-width="1.4" />
<line x1="564.2" y1="233.5" x2="567.0" y2="233.5" stroke="#000" stroke-width="1.4" />
<line x1="564.2" y1="220.9" x2="567.0" y2="220.9" stroke="#000" stroke-width="1.4" />
<line x1="561.0" y1="208.4" x2="567.0" y2="208.4" stroke="#000" stroke-width="1.6" />
<text x="0" y="0" font-size="12.8" fill="#000" transform="translate(528.69 213.10) scale(1 1.06)">0</text>
<text x="0" y="0" font-size="12.8" fill="#000" transform="translate(535.81 213.10) scale(1 1.06)">.</text>
<path d="M763 0L583 0L583 1096Q518 1037 412 978Q307 919 223 890L223 1056Q374 1124 486 1220Q599 1317 646 1409L763 1409Z" fill="#000" transform="translate(539.36 213.10) scale(0.00625 -0.00625)"/>
<text x="0" y="0" font-size="12.8" fill="#000" transform="translate(546.48 213.10) scale(1 1.06)">5</text>
<line x1="564.2" y1="195.9" x2="567.0" y2="195.9" stroke="#000" stroke-width="1.4" />
<line x1="564.2" y1="183.3" x2="567.0" y2="183.3" stroke="#000" stroke-width="1.4" />
<line x1="564.2" y1="170.8" x2="567.0" y2="170.8" stroke="#000" stroke-width="1.4" />
<line x1="564.2" y1="158.2" x2="567.0" y2="158.2" stroke="#000" stroke-width="1.4" />
<line x1="561.0" y1="145.7" x2="567.0" y2="145.7" stroke="#000" stroke-width="1.6" />
<text x="0" y="0" font-size="12.8" fill="#000" transform="translate(528.69 150.40) scale(1 1.06)">0</text>
<text x="0" y="0" font-size="12.8" fill="#000" transform="translate(535.81 150.40) scale(1 1.06)">.</text>
<text x="0" y="0" font-size="12.8" fill="#000" transform="translate(539.36 150.40) scale(1 1.06)">2</text>
<text x="0" y="0" font-size="12.8" fill="#000" transform="translate(546.48 150.40) scale(1 1.06)">0</text>
<line x1="564.2" y1="133.2" x2="567.0" y2="133.2" stroke="#000" stroke-width="1.4" />
<line x1="564.2" y1="120.6" x2="567.0" y2="120.6" stroke="#000" stroke-width="1.4" />
<line x1="564.2" y1="108.1" x2="567.0" y2="108.1" stroke="#000" stroke-width="1.4" />
<line x1="564.2" y1="95.5" x2="567.0" y2="95.5" stroke="#000" stroke-width="1.4" />
<line x1="561.0" y1="83.0" x2="567.0" y2="83.0" stroke="#000" stroke-width="1.6" />
<text x="0" y="0" font-size="12.8" fill="#000" transform="translate(528.69 87.70) scale(1 1.06)">0</text>
<text x="0" y="0" font-size="12.8" fill="#000" transform="translate(535.81 87.70) scale(1 1.06)">.</text>
<text x="0" y="0" font-size="12.8" fill="#000" transform="translate(539.36 87.70) scale(1 1.06)">2</text>
<text x="0" y="0" font-size="12.8" fill="#000" transform="translate(546.48 87.70) scale(1 1.06)">5</text>
<line x1="564.2" y1="70.5" x2="567.0" y2="70.5" stroke="#000" stroke-width="1.4" />
<line x1="564.2" y1="57.9" x2="567.0" y2="57.9" stroke="#000" stroke-width="1.4" />
<line x1="564.2" y1="45.4" x2="567.0" y2="45.4" stroke="#000" stroke-width="1.4" />
<line x1="564.2" y1="32.8" x2="567.0" y2="32.8" stroke="#000" stroke-width="1.4" />
<line x1="561.0" y1="20.3" x2="567.0" y2="20.3" stroke="#000" stroke-width="1.6" />
<text x="0" y="0" font-size="12.8" fill="#000" transform="translate(528.69 25.00) scale(1 1.06)">0</text>
<text x="0" y="0" font-size="12.8" fill="#000" transform="translate(535.81 25.00) scale(1 1.06)">.</text>
<text x="0" y="0" font-size="12.8" fill="#000" transform="translate(539.36 25.00) scale(1 1.06)">3</text>
<text x="0" y="0" font-size="12.8" fill="#000" transform="translate(546.48 25.00) scale(1 1.06)">0</text>
<line x1="564.3" y1="330.8" x2="564.3" y2="336.8" stroke="#000" stroke-width="1.6" />
<text x="0" y="0" font-size="12.8" fill="#000" transform="translate(560.74 354.00) scale(1 1.06)">5</text>
<line x1="662.2" y1="330.8" x2="662.2" y2="336.8" stroke="#000" stroke-width="1.6" />
<path d="M763 0L583 0L583 1096Q518 1037 412 978Q307 919 223 890L223 1056Q374 1124 486 1220Q599 1317 646 1409L763 1409Z" fill="#000" transform="translate(655.13 354.00) scale(0.00625 -0.00625)"/>
<text x="0" y="0" font-size="12.8" fill="#000" transform="translate(662.25 354.00) scale(1 1.06)">0</text>
<line x1="760.2" y1="330.8" x2="760.2" y2="336.8" stroke="#000" stroke-width="1.6" />
<path d="M763 0L583 0L583 1096Q518 1037 412 978Q307 919 223 890L223 1056Q374 1124 486 1220Q599 1317 646 1409L763 1409Z" fill="#000" transform="translate(753.08 354.00) scale(0.00625 -0.00625)"/>
<text x="0" y="0" font-size="12.8" fill="#000" transform="translate(760.20 354.00) scale(1 1.06)">5</text>
<line x1="858.1" y1="330.8" x2="858.1" y2="336.8" stroke="#000" stroke-width="1.6" />
<text x="0" y="0" font-size="12.8" fill="#000" transform="translate(851.03 354.00) scale(1 1.06)">2</text>
<text x="0" y="0" font-size="12.8" fill="#000" transform="translate(858.15 354.00) scale(1 1.06)">0</text>
<line x1="956.1" y1="330.8" x2="956.1" y2="336.8" stroke="#000" stroke-width="1.6" />
<text x="0" y="0" font-size="12.8" fill="#000" transform="translate(948.98 354.00) scale(1 1.06)">2</text>
<text x="0" y="0" font-size="12.8" fill="#000" transform="translate(956.10 354.00) scale(1 1.06)">5</text>
<line x1="583.9" y1="331.0" x2="583.9" y2="333.8" stroke="#000" stroke-width="1.4" />
<line x1="603.5" y1="331.0" x2="603.5" y2="333.8" stroke="#000" stroke-width="1.4" />
<line x1="623.1" y1="331.0" x2="623.1" y2="333.8" stroke="#000" stroke-width="1.4" />
<line x1="642.7" y1="331.0" x2="642.7" y2="333.8" stroke="#000" stroke-width="1.4" />
<line x1="681.8" y1="331.0" x2="681.8" y2="333.8" stroke="#000" stroke-width="1.4" />
<line x1="701.4" y1="331.0" x2="701.4" y2="333.8" stroke="#000" stroke-width="1.4" />
<line x1="721.0" y1="331.0" x2="721.0" y2="333.8" stroke="#000" stroke-width="1.4" />
<line x1="740.6" y1="331.0" x2="740.6" y2="333.8" stroke="#000" stroke-width="1.4" />
<line x1="779.8" y1="331.0" x2="779.8" y2="333.8" stroke="#000" stroke-width="1.4" />
<line x1="799.4" y1="331.0" x2="799.4" y2="333.8" stroke="#000" stroke-width="1.4" />
<line x1="819.0" y1="331.0" x2="819.0" y2="333.8" stroke="#000" stroke-width="1.4" />
<line x1="838.6" y1="331.0" x2="838.6" y2="333.8" stroke="#000" stroke-width="1.4" />
<line x1="877.7" y1="331.0" x2="877.7" y2="333.8" stroke="#000" stroke-width="1.4" />
<line x1="897.3" y1="331.0" x2="897.3" y2="333.8" stroke="#000" stroke-width="1.4" />
<line x1="916.9" y1="331.0" x2="916.9" y2="333.8" stroke="#000" stroke-width="1.4" />
<line x1="936.5" y1="331.0" x2="936.5" y2="333.8" stroke="#000" stroke-width="1.4" />
<line x1="975.7" y1="331.0" x2="975.7" y2="333.8" stroke="#000" stroke-width="1.4" />
<text x="754.2" y="385.4" font-size="15.6" font-weight="bold" font-style="normal" fill="#000" text-anchor="start" >La/Yb</text>
<text transform="translate(521.2 187.3) rotate(-90)" font-size="16" font-weight="bold">Nb/Zr</text>
<text x="504.6" y="12.9" font-size="16.5" font-weight="bold" font-style="normal" fill="#000" text-anchor="start" >B</text>
<rect x="976.8" y="322" width="1.2" height="1.2" fill="#bbb"/>
</svg></body></html>
